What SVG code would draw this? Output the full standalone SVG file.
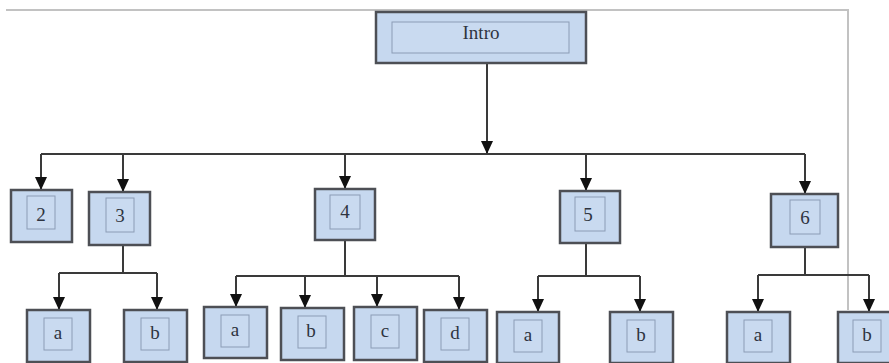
<svg xmlns="http://www.w3.org/2000/svg" width="889" height="363" viewBox="0 0 889 363">
<style>
.box{fill:#c6d8ef;stroke:#4d4f55;stroke-width:2.5}
.in{fill:#c9daf0;stroke:#8b9cb6;stroke-width:1}
.t{font-family:"Liberation Serif","DejaVu Serif",serif;font-size:19px;fill:#2e3440;text-anchor:middle}
.c{fill:none;stroke:#3a3a3a;stroke-width:2}
.frame{fill:none;stroke:#c2c2c2;stroke-width:2}
</style>
<defs>
<marker id="dn" markerUnits="userSpaceOnUse" markerWidth="12" markerHeight="13" refX="6" refY="13" orient="0" viewBox="0 0 12 13">
<path d="M0,0 L12,0 L6,13 Z" fill="#111"/>
</marker>
</defs>
<rect width="889" height="363" fill="#ffffff"/>
<g id="frame">
<path class="frame" d="M6,10 H848 V310"/>
</g>
<g id="connectors">
<path class="c" d="M487,63 V154" marker-end="url(#dn)"/>
<path class="c" d="M41,154 H805"/>
<path class="c" d="M41,154 V190" marker-end="url(#dn)"/>
<path class="c" d="M123,154 V192" marker-end="url(#dn)"/>
<path class="c" d="M345,154 V189" marker-end="url(#dn)"/>
<path class="c" d="M586,154 V191" marker-end="url(#dn)"/>
<path class="c" d="M805,154 V194" marker-end="url(#dn)"/>
<path class="c" d="M123,245 V273"/>
<path class="c" d="M59,273 H157"/>
<path class="c" d="M59,273 V310" marker-end="url(#dn)"/>
<path class="c" d="M157,273 V310" marker-end="url(#dn)"/>
<path class="c" d="M345,240 V276"/>
<path class="c" d="M236,276 H459"/>
<path class="c" d="M236,276 V307" marker-end="url(#dn)"/>
<path class="c" d="M305,276 V308" marker-end="url(#dn)"/>
<path class="c" d="M377,276 V307" marker-end="url(#dn)"/>
<path class="c" d="M459,276 V310" marker-end="url(#dn)"/>
<path class="c" d="M586,243 V276"/>
<path class="c" d="M538,276 H640"/>
<path class="c" d="M538,276 V312" marker-end="url(#dn)"/>
<path class="c" d="M640,276 V312" marker-end="url(#dn)"/>
<path class="c" d="M805,247 V275"/>
<path class="c" d="M758,275 H869"/>
<path class="c" d="M758,275 V312" marker-end="url(#dn)"/>
<path class="c" d="M869,275 V312" marker-end="url(#dn)"/>
</g>
<g id="intro">
<rect class="box" x="376" y="12" width="210" height="51"/>
<rect class="in" x="392" y="22" width="177" height="31"/>
<text class="t" x="481" y="39">Intro</text>
</g>
<g id="n2">
<rect class="box" x="11" y="190" width="61" height="52"/>
<rect class="in" x="27" y="196" width="28" height="33"/>
<text class="t" x="41" y="221">2</text>
</g>
<g id="n3">
<rect class="box" x="89" y="192" width="61" height="53"/>
<rect class="in" x="106" y="198" width="28" height="34"/>
<text class="t" x="120" y="222">3</text>
</g>
<g id="n4">
<rect class="box" x="315" y="189" width="60" height="51"/>
<rect class="in" x="330" y="195" width="30" height="34"/>
<text class="t" x="345" y="218">4</text>
</g>
<g id="n5">
<rect class="box" x="560" y="191" width="60" height="52"/>
<rect class="in" x="575" y="197" width="30" height="34"/>
<text class="t" x="588" y="221">5</text>
</g>
<g id="n6">
<rect class="box" x="771" y="194" width="67" height="53"/>
<rect class="in" x="790" y="200" width="30" height="34"/>
<text class="t" x="805" y="224">6</text>
</g>
<g id="n3a">
<rect class="box" x="27" y="310" width="63" height="52"/>
<rect class="in" x="44" y="318" width="28" height="32"/>
<text class="t" x="58" y="339">a</text>
</g>
<g id="n3b">
<rect class="box" x="124" y="310" width="63" height="52"/>
<rect class="in" x="141" y="318" width="28" height="32"/>
<text class="t" x="155" y="339">b</text>
</g>
<g id="n4a">
<rect class="box" x="204" y="307" width="63" height="51"/>
<rect class="in" x="221" y="315" width="28" height="32"/>
<text class="t" x="235" y="336">a</text>
</g>
<g id="n4b">
<rect class="box" x="281" y="308" width="63" height="52"/>
<rect class="in" x="298" y="316" width="28" height="32"/>
<text class="t" x="311" y="337">b</text>
</g>
<g id="n4c">
<rect class="box" x="354" y="307" width="63" height="53"/>
<rect class="in" x="371" y="315" width="28" height="33"/>
<text class="t" x="385" y="337">c</text>
</g>
<g id="n4d">
<rect class="box" x="424" y="310" width="63" height="52"/>
<rect class="in" x="441" y="318" width="28" height="32"/>
<text class="t" x="455" y="339">d</text>
</g>
<g id="n5a">
<rect class="box" x="497" y="312" width="62" height="51"/>
<rect class="in" x="514" y="320" width="28" height="32"/>
<text class="t" x="528" y="341">a</text>
</g>
<g id="n5b">
<rect class="box" x="610" y="312" width="63" height="51"/>
<rect class="in" x="627" y="320" width="28" height="32"/>
<text class="t" x="641" y="341">b</text>
</g>
<g id="n6a">
<rect class="box" x="727" y="312" width="63" height="51"/>
<rect class="in" x="744" y="320" width="28" height="32"/>
<text class="t" x="758" y="341">a</text>
</g>
<g id="n6b">
<rect class="box" x="838" y="312" width="63" height="51"/>
<rect class="in" x="853" y="320" width="28" height="32"/>
<text class="t" x="867" y="341">b</text>
</g>
</svg>
